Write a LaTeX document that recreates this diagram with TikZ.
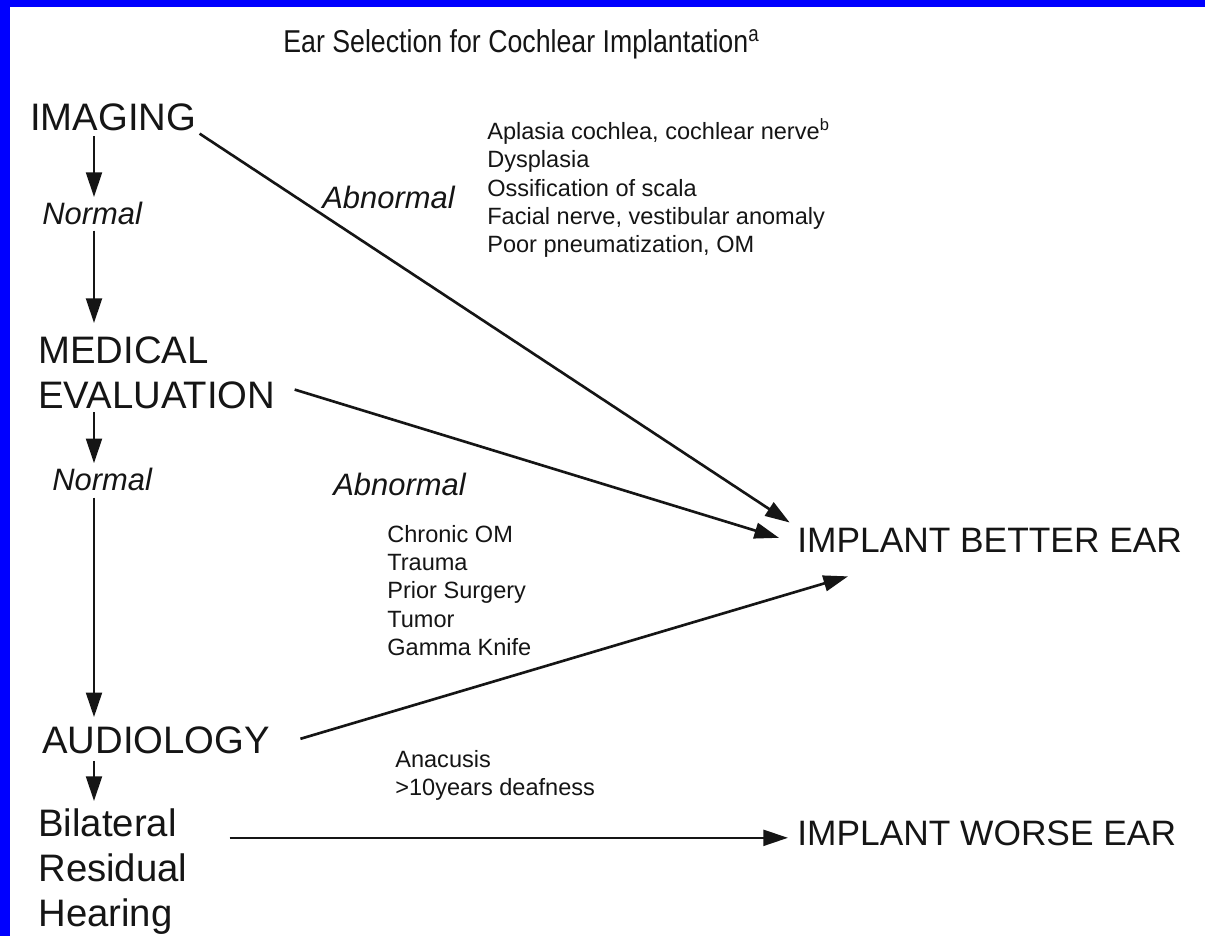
\documentclass[tikz,border=0pt]{standalone}
\usepackage{fontspec}
\setmainfont{Liberation Sans}
\usepackage{xcolor}
\definecolor{FrameBlue}{HTML}{0000FF}
\definecolor{InkBlack}{HTML}{151515}
\usepackage{tikz}
\usetikzlibrary{arrows.meta, positioning, calc}
\tikzstyle{heading} = [inner sep=0pt, font=\fontsize{18}{21}\selectfont, text=InkBlack]
\tikzstyle{stage} = [inner sep=0pt, font=\fontsize{21.8}{25.8}\selectfont, align=left, text=InkBlack]
\tikzstyle{outcome} = [inner sep=0pt, font=\fontsize{20.1}{24}\selectfont, text=InkBlack]
\tikzstyle{branch} = [inner sep=0pt, font=\fontsize{17.6}{20}\selectfont\itshape, text=InkBlack]
\tikzstyle{findings} = [inner sep=0pt, font=\fontsize{13.4}{16.1}\selectfont, align=left, text=InkBlack]
\tikzstyle{arrow} = [line width=1.5pt, draw=InkBlack, -{Triangle[length=14pt,width=9pt]}, shorten <=2.5pt, shorten >=3pt]

\begin{document}
\begin{tikzpicture}[x=0.02cm, y=-0.02cm]
        % --- canvas and blue frame ---
        \useasboundingbox (0,0) rectangle (1205,936);
        \fill[white] (0,0) rectangle (1205,936);
        \fill[FrameBlue] (0,0) rectangle (1205,7);
        \fill[FrameBlue] (0,0) rectangle (10,936);

        % --- title ---
        \node [heading, anchor=base west] (title) at (283,53) {\scalebox{0.845}[1]{Ear Selection for Cochlear Implantation\textsuperscript{a}}};

        % --- decision chain ---
        \coordinate (spine) at (94,0);
        \node [stage, anchor=base west] (imaging) at (30,131) {IMAGING};
        \node [branch, anchor=base west] (normal1) at (42,225) {Normal};
        \node [stage, anchor=north west] (medical) at (38,336) {MEDICAL\\EVALUATION};
        \node [branch, anchor=base west] (normal2) at (52,490) {Normal};
        \node [stage, anchor=base west] (audiology) at (42,753) {AUDIOLOGY};
        \node [stage, anchor=north west] (bilateral) at (38,808) {Bilateral\\Residual\\Hearing};

        % --- outcomes ---
        \node [outcome, anchor=base west] (better) at (797,552) {IMPLANT BETTER EAR};
        \node [outcome, anchor=base west] (worse) at (797,845) {IMPLANT WORSE EAR};

        % --- abnormal branches and findings ---
        \node [branch, anchor=base west] (abnormal1) at (322,209) {Abnormal};
        \node [branch, anchor=base west] (abnormal2) at (333,495) {Abnormal};
        \node [findings, anchor=north west] (imgfind) at (487,118) {Aplasia cochlea, cochlear nerve\textsuperscript{b}\\Dysplasia\\Ossification of scala\\Facial nerve, vestibular anomaly\\Poor pneumatization, OM};
        \node [findings, anchor=north west] (medfind) at (387,525) {Chronic OM\\Trauma\\Prior Surgery\\Tumor\\Gamma Knife};
        \node [findings, anchor=north west] (audfind) at (395,750) {Anacusis\\>10years deafness};

        % Connect the chain
        \draw [arrow] (imaging.south -| spine) -- (normal1.north -| spine);
        \draw [arrow, shorten <=2.8pt, shorten >=7.4pt] (normal1.south -| spine) -- (medical.north -| spine);
        \draw [arrow, shorten <=1.7pt, shorten >=2.3pt] (medical.south -| spine) -- (normal2.north -| spine);
        \draw [arrow, shorten <=4pt, shorten >=5pt] (normal2.south -| spine) -- (audiology.north -| spine);
        \draw [arrow, shorten <=4pt, shorten >=4pt] (audiology.south -| spine) -- (bilateral.north -| spine);

        % Connect to outcomes
        \draw [arrow, shorten <=2pt, shorten >=5pt] (imaging.south east) -- (better.north west);
        \draw [arrow, shorten <=0pt, shorten >=0pt] ($(medical.east)+(19,17)$) -- ($(better.west)+(-18,-2)$);
        \draw [arrow, shorten <=0pt, shorten >=0pt] ($(audiology.east)+(30,-1)$) -- ($(better.south west)+(51,24)$);
        \draw [arrow, shorten <=0pt, shorten >=0pt] ($(bilateral.east |- worse.west)+(42,5)$) -- ($(worse.west)+(-9,5)$);
    \end{tikzpicture}
\end{document}
